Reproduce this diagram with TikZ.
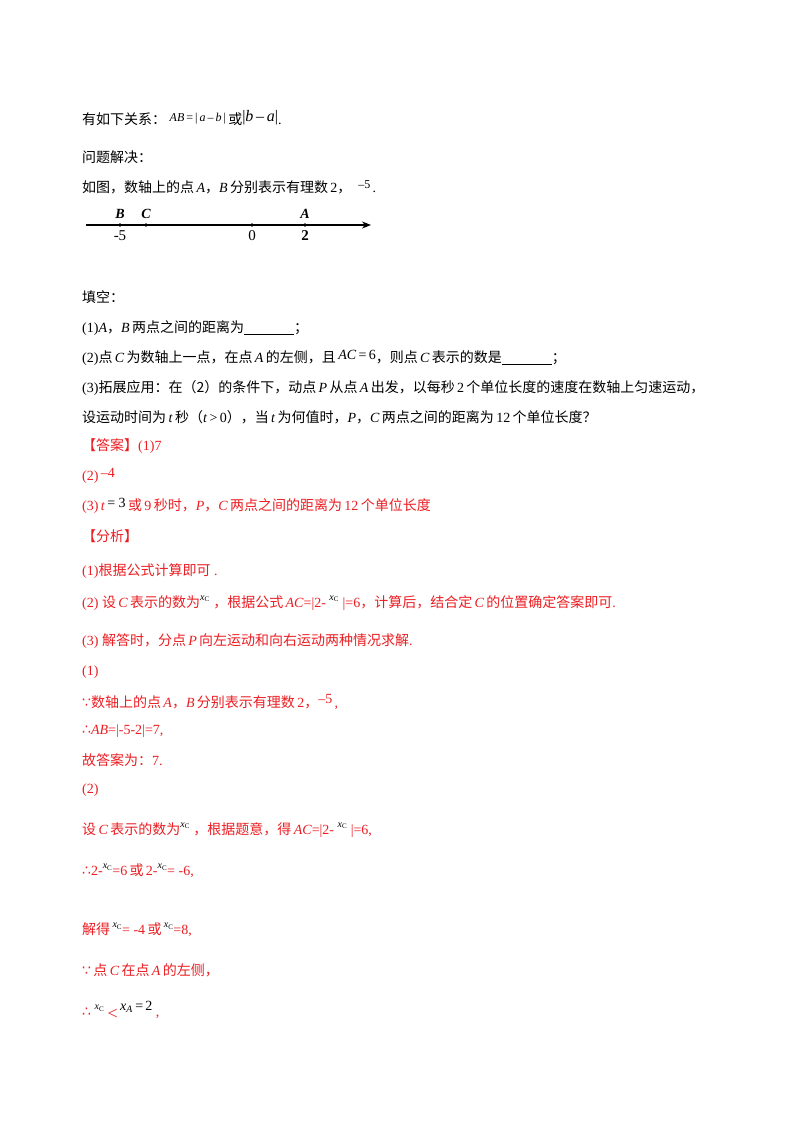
\documentclass[tikz,border=0pt]{standalone}
\usepackage{amssymb}
\usepackage{fontspec}
\setmainfont{Liberation Serif}
\newfontfamily\cjk{Noto Sans CJK SC}
\newfontfamily\djv{DejaVu Sans}
\usetikzlibrary{arrows.meta}
\definecolor{ans}{RGB}{235,30,35}
\newcommand{\zh}[1]{{\cjk #1}}
\newcommand{\xcup}{\raisebox{1.1ex}{\fontsize{10}{10}\selectfont\textit{x}\textsubscript{C}}}
\newcommand{\bec}{{\djv ∵}}
\newcommand{\thf}{{\djv ∴}}
\tikzset{ln/.style={anchor=west,inner sep=0pt,font=\fontsize{14}{16}\selectfont},
 rd/.style={ln,text=ans},
 tk/.style={circle,fill=black,inner sep=0pt,minimum size=3.6pt},
 lb/.style={inner sep=0pt,font=\fontsize{14}{16}\selectfont\itshape\bfseries}}
\begin{document}
\begin{tikzpicture}[x=1pt,y=-1pt]
\useasboundingbox[fill=white] (0,0) rectangle (800,1132);
\node[ln] (l1) at (82,118) {\zh{有如下关系：}\ \raisebox{0.5ex}{\fontsize{12}{12}\selectfont\textit{AB}\,=\,|\,\textit{a}\,–\,\textit{b}\,|}\,\zh{或}\raisebox{0.6ex}{\fontsize{16}{16}\selectfont|\textit{b}\,–\,\textit{a}|}.};
\node[ln] (l2) at (82,157) {\zh{问题解决：}};
\node[ln] (l3) at (82,187) {\zh{如图，数轴上的点}\,\textit{A}\zh{，}\textit{B}\,\zh{分别表示有理数}\,2\zh{，}\enspace\raisebox{0.6ex}{\fontsize{12}{12}\selectfont–5}\,.};
\coordinate (s) at (86,225); \coordinate (e) at (371,225);
\draw[line width=1.2pt,-{Stealth[length=9pt,width=7pt]}] (s) -- (e);
\node[tk] (B) at (120,225) {}; \node[tk] (C) at (146,225) {};
\node[tk] (O) at (252,225) {}; \node[tk] (A) at (305,225) {};
\node[lb,above=6pt] (Bl) at (B) {B}; \node[lb,above=6pt] (Cl) at (C) {C};
\node[lb,above=6pt] (Al) at (A) {A};
\node[inner sep=0pt,below=5pt,font=\fontsize{15}{16}\selectfont] (Bn) at (B) {-5};
\node[inner sep=0pt,below=5pt,font=\fontsize{15}{16}\selectfont] (On) at (O) {0};
\node[inner sep=0pt,below=5pt,font=\fontsize{15}{16}\selectfont\bfseries] (An) at (A) {2};
\node[ln] (l4) at (82,297) {\zh{填空：}};
\node[ln] (l5) at (82,328) {(1)\textit{A}\zh{，}\textit{B}\,\zh{两点之间的距离为}\rule[-2pt]{50pt}{0.6pt}\zh{；}};
\node[ln] (l6) at (82,358) {(2)\zh{点}\,\textit{C}\,\zh{为数轴上一点，在点}\,\textit{A}\,\zh{的左侧，且}\,\raisebox{0.4ex}{\textit{AC}\,=\,6}\zh{，则点}\,\textit{C}\,\zh{表示的数是}\rule[-2pt]{50pt}{0.6pt}\zh{；}};
\node[ln] (l7) at (82,388) {(3)\zh{拓展应用：在（2）的条件下，动点}\,\textit{P}\,\zh{从点}\,\textit{A}\,\zh{出发，以每秒}\,2\,\zh{个单位长度的速度在数轴上匀速运动，}};
\node[ln] (l8) at (82,417) {\zh{设运动时间为}\,\textit{t}\,\zh{秒（}\textit{t}\,>\,0\zh{），当}\,\textit{t}\,\zh{为何值时，}\textit{P}\zh{，}\textit{C}\,\zh{两点之间的距离为}\,12\,\zh{个单位长度？}};
\node[rd] (l9) at (82,446) {\zh{【答案】}(1)7};
\node[rd] (l10) at (82,476) {(2)\,\raisebox{0.4ex}{–4}};
\node[rd] (l11) at (82,506) {(3)\,\textit{t}\,\raisebox{0.4ex}{\textcolor{black}{= 3}}\,\zh{或}\,9\,\zh{秒时，}\textit{P}\zh{，}\textit{C}\,\zh{两点之间的距离为}\,12\,\zh{个单位长度}};
\node[rd] (l12) at (82,536) {\zh{【分析】}};
\node[rd] (l13) at (82,571) {(1)\zh{根据公式计算即可}\ .};
\node[rd] (l14) at (82,603) {(2)\ \zh{设}\,\textit{C}\,\zh{表示的数为}\textcolor{black}{\xcup}\ \zh{，根据公式}\,\textit{AC}=|2-\ \textcolor{black}{\xcup}\ |=6\zh{，计算后，结合定}\,\textit{C}\,\zh{的位置确定答案即可}.};
\node[rd] (l15) at (82,641) {(3)\ \zh{解答时，分点}\,\textit{P}\,\zh{向左运动和向右运动两种情况求解}.};
\node[rd] (l16) at (82,672) {(1)};
\node[rd] (l17) at (82,702) {\bec\zh{数轴上的点}\,\textit{A}\zh{，}\textit{B}\,\zh{分别表示有理数}\,2\zh{，}\raisebox{0.5ex}{–5}\,,};
\node[rd] (l18) at (82,731) {\thf\textit{AB}=|-5-2|=7,};
\node[rd] (l19) at (82,760) {\zh{故答案为：}7.};
\node[rd] (l20) at (82,790) {(2)};
\node[rd] (l21) at (82,830) {\zh{设}\,\textit{C}\,\zh{表示的数为}\textcolor{black}{\xcup}\ \zh{，根据题意，得}\,\textit{AC}=|2-\ \textcolor{black}{\xcup}\ |=6,};
\node[rd] (l22) at (82,871) {\thf2-\textcolor{black}{\xcup}=6\,\zh{或}\,2-\textcolor{black}{\xcup}= -6,};
\node[rd] (l23) at (82,930) {\zh{解得}\,\textcolor{black}{\xcup}= -4\,\zh{或}\,\textcolor{black}{\xcup}=8,};
\node[rd] (l24) at (82,970) {\bec\,\zh{点}\,\textit{C}\,\zh{在点}\,\textit{A}\,\zh{的左侧，}};
\node[rd] (l25) at (82,1010) {\thf\ \textcolor{black}{\xcup}\ \raisebox{-0.4ex}{\fontsize{18}{18}\selectfont<}\,\textcolor{black}{\raisebox{1.0ex}{\textit{x}\textsubscript{\textit{A}}\,=\,2}}\ ,};
\end{tikzpicture}
\end{document}
